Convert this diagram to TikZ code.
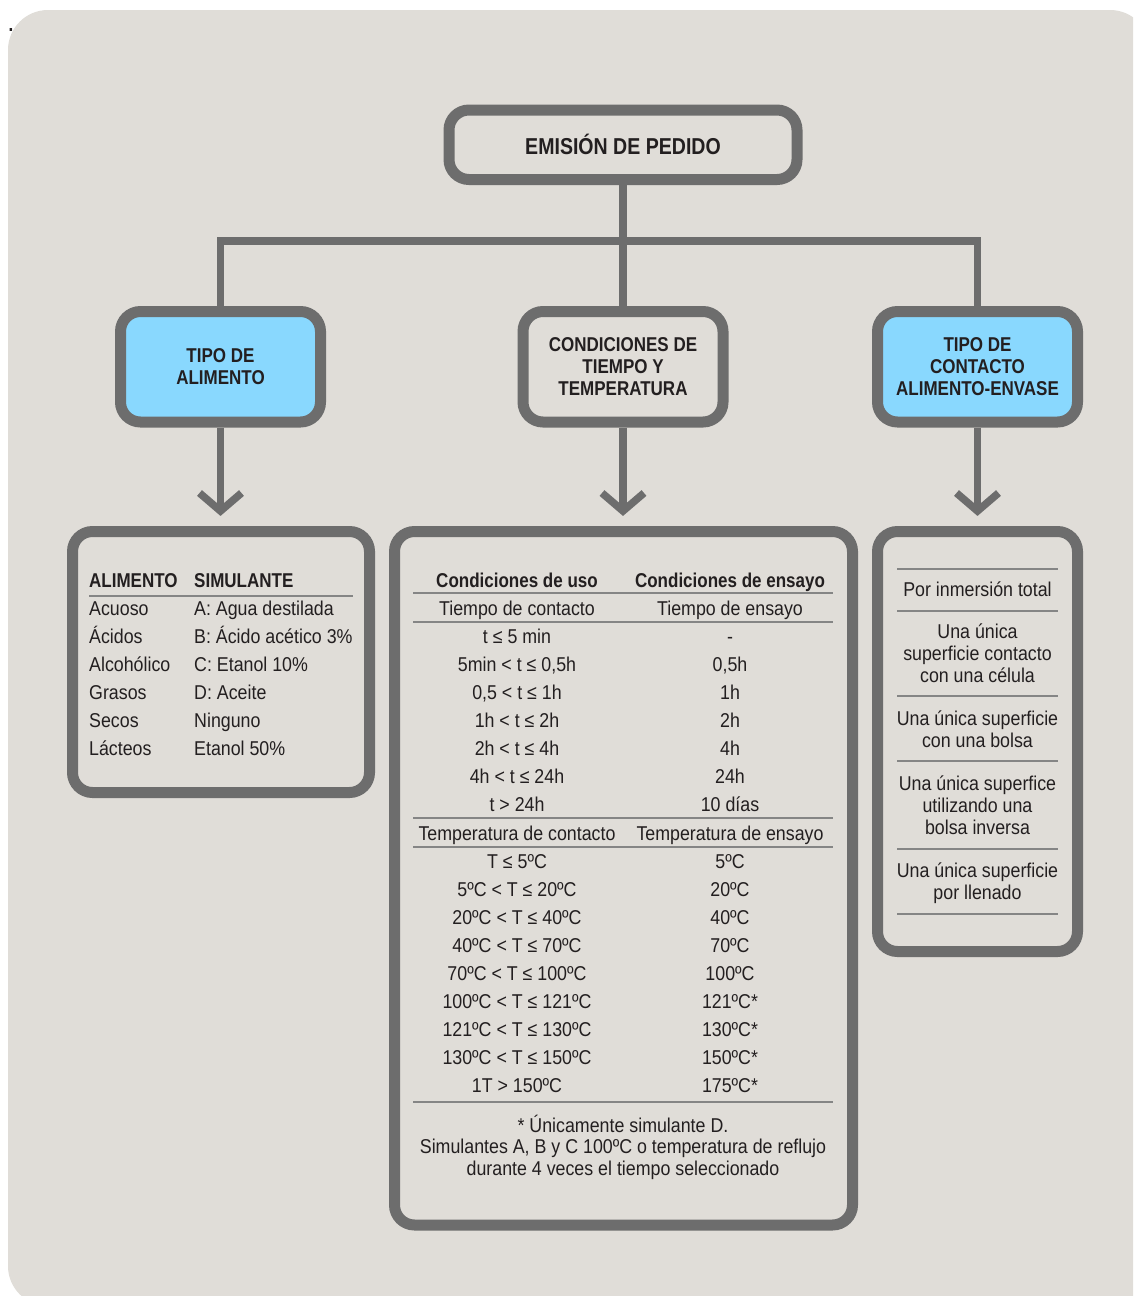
\documentclass[tikz,border=0pt]{standalone}
\usepackage{fontspec}
\setmainfont{Liberation Sans}[FakeStretch=0.89, BoldFeatures={FakeStretch=0.85}]
\definecolor{panel}{HTML}{E0DDD8}
\definecolor{frame}{HTML}{6D6D6D}
\definecolor{sky}{HTML}{89D8FE}
\definecolor{ink}{HTML}{231F20}
\definecolor{hair}{HTML}{858585}
\newcommand\txt{\fontsize{20}{22}\selectfont}
\newcommand\timerow[3]{%
  \node[cell] (tl#1) at (517,#1) {#2};
  \node[cell] (tr#1) at (730,#1) {#3};}
\begin{document}
\begin{tikzpicture}[x=1pt,y=-1pt,
  box/.style={draw=frame, line width=11pt, rounded corners=20pt, fill=panel,
    inner sep=0pt, text=ink, align=center, font=\bfseries\txt},
  conn/.style={draw=frame, line width=7.5pt, line join=miter},
  cell/.style={anchor=base, inner sep=0pt, text=ink, font=\txt},
  lcell/.style={anchor=base west, inner sep=0pt, text=ink, font=\txt},
  hd/.style={font=\bfseries\txt},
  hrule/.style={draw=hair, line width=1.4pt}]
\useasboundingbox (0,0) rectangle (1133,1296);
\clip (0,0) rectangle (1133,1296);
\fill[white] (0,0) rectangle (1133,1296);
\fill[panel, rounded corners=40pt] (8,10) rectangle (1150,1306);
\node[anchor=base, inner sep=0pt, text=ink, font=\bfseries\fontsize{20}{22}\selectfont] (dot) at (11,31) {.};

% upper row of boxes
\node[box, font=\bfseries\fontsize{23}{26}\selectfont, minimum width=348pt, minimum height=69.5pt] (emision) at (623,144.75) {EMISIÓN DE PEDIDO};
\node[box, fill=sky, minimum width=200pt, minimum height=110.5pt] (tipo) at (220.5,366.75) {TIPO DE\\ALIMENTO};
\node[box, minimum width=200pt, minimum height=110.5pt] (cond) at (623,366.75) {CONDICIONES DE\\TIEMPO Y\\TEMPERATURA};
\node[box, fill=sky, minimum width=200pt, minimum height=110.5pt] (contacto) at (977.5,366.75) {TIPO DE\\CONTACTO\\ALIMENTO-ENVASE};

% lower row of boxes
\node[box, minimum width=297pt, minimum height=261pt] (simbox) at (221,662) {};
\node[box, minimum width=458pt, minimum height=693.5pt] (tablebox) at (623.5,878.25) {};
\node[box, minimum width=200pt, minimum height=420pt] (contactbox) at (977.5,741.5) {};

% tree connectors
\coordinate (bar) at (623,241);
\draw[conn] (emision.south) -- (cond.north);
\draw[conn] (tipo.north) |- (bar) -| (contacto.north);

% arrows down to the detail boxes
\coordinate (tipT) at (220.5,511);
\coordinate (condT) at (623,511);
\coordinate (contT) at (977.5,511);
\foreach \src/\tip in {tipo/tipT, cond/condT, contacto/contT}{
  \draw[conn] (\src.south) -- (\tip);
  \draw[conn] ([shift={(-21,-18)}]\tip) -- (\tip) -- ([shift={(21,-18)}]\tip);
}

% food / simulant table
\node[lcell, hd] (hA) at (89,587) {ALIMENTO};
\node[lcell, hd] (hS) at (194,587) {SIMULANTE};
\draw[hrule] (89,596) -- (353,596);
\foreach \a/\b [count=\i] in {Acuoso/A: Agua destilada, Ácidos/B: Ácido acético 3\%,
  Alcohólico/C: Etanol 10\%, Grasos/D: Aceite, Secos/Ninguno, Lácteos/Etanol 50\%}{
  \node[lcell] (fa\i) at (89,587+28*\i) {\a};
  \node[lcell] (fs\i) at (194,587+28*\i) {\b};
}

% time and temperature table
\node[cell, hd] (hu) at (517,587) {Condiciones de uso};
\node[cell, hd] (he) at (730,587) {Condiciones de ensayo};
\draw[hrule] (413,593) -- (833,593);
\timerow{615}{Tiempo de contacto}{Tiempo de ensayo}
\draw[hrule] (413,622) -- (833,622);
\timerow{643}{t ≤ 5 min}{-}
\timerow{671}{5min < t ≤ 0,5h}{0,5h}
\timerow{699}{0,5 < t ≤ 1h}{1h}
\timerow{727}{1h < t ≤ 2h}{2h}
\timerow{755}{2h < t ≤ 4h}{4h}
\timerow{783}{4h < t ≤ 24h}{24h}
\timerow{811}{t > 24h}{10 días}
\draw[hrule] (413,818) -- (833,818);
\timerow{840}{Temperatura de contacto}{Temperatura de ensayo}
\draw[hrule] (413,847) -- (833,847);
\timerow{868}{T ≤ 5ºC}{5ºC}
\timerow{896}{5ºC < T ≤ 20ºC}{20ºC}
\timerow{924}{20ºC < T ≤ 40ºC}{40ºC}
\timerow{952}{40ºC < T ≤ 70ºC}{70ºC}
\timerow{980}{70ºC < T ≤ 100ºC}{100ºC}
\timerow{1008}{100ºC < T ≤ 121ºC}{121ºC*}
\timerow{1036}{121ºC < T ≤ 130ºC}{130ºC*}
\timerow{1064}{130ºC < T ≤ 150ºC}{150ºC*}
\timerow{1092}{1T > 150ºC}{175ºC*}
\draw[hrule] (413,1102) -- (833,1102);
\node[cell] (n1) at (623,1132) {* Únicamente simulante D.};
\node[cell] (n2) at (623,1153.5) {Simulantes A, B y C 100ºC o temperatura de reflujo};
\node[cell] (n3) at (623,1175) {durante 4 veces el tiempo seleccionado};

% contact types
\foreach \y in {569,611,696,761,849,914}{ \draw[hrule] (897,\y) -- (1058,\y); }
\node[cell] (c1) at (977.5,596) {Por inmersión total};
\node[cell] (c2a) at (977.5,638) {Una única};
\node[cell] (c2b) at (977.5,660) {superficie contacto};
\node[cell] (c2c) at (977.5,682) {con una célula};
\node[cell] (c3a) at (977.5,725) {Una única superficie};
\node[cell] (c3b) at (977.5,747) {con una bolsa};
\node[cell] (c4a) at (977.5,790) {Una única superfice};
\node[cell] (c4b) at (977.5,812) {utilizando una};
\node[cell] (c4c) at (977.5,834) {bolsa inversa};
\node[cell] (c5a) at (977.5,877) {Una única superficie};
\node[cell] (c5b) at (977.5,899) {por llenado};
\end{tikzpicture}
\end{document}
